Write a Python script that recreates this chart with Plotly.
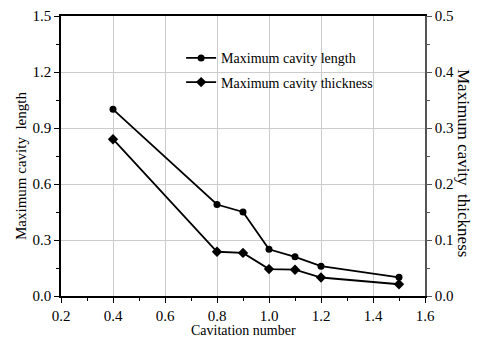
import plotly.graph_objects as go

cav_number = [0.4, 0.8, 0.9, 1.0, 1.1, 1.2, 1.5]
max_length = [1.0, 0.49, 0.45, 0.25, 0.21, 0.16, 0.10]
max_thickness = [0.28, 0.079, 0.077, 0.048, 0.047, 0.033, 0.021]

FONT = "Times New Roman, Liberation Serif, serif"

fig = go.Figure()
fig.add_trace(go.Scatter(
    x=cav_number, y=max_length, mode="lines+markers",
    name="Maximum cavity length", legendgroup="a",
    line=dict(color="black", width=1.8),
    marker=dict(symbol="circle", size=7, color="black"),
))
fig.add_trace(go.Scatter(
    x=cav_number, y=max_thickness, mode="lines+markers",
    name="Maximum cavity thickness", legendgroup="b", yaxis="y2",
    line=dict(color="black", width=1.8),
    marker=dict(symbol="diamond", size=8, color="black"),
))

tickfont = dict(family=FONT, size=15, color="black")

fig.update_layout(
    width=479, height=342,
    margin=dict(l=61, r=54, t=16, b=46),
    paper_bgcolor="white", plot_bgcolor="white",
    font=dict(family=FONT, color="black"),
    showlegend=True,
    legend=dict(x=0.33, y=0.906, xanchor="left", yanchor="top",
                bgcolor="rgba(0,0,0,0)", font=dict(family=FONT, size=14, color="black"),
                tracegroupgap=3, itemwidth=30),
    xaxis=dict(range=[0.2, 1.6], dtick=0.2, tickformat=".1f", automargin=False,
               showline=True, linecolor="black", linewidth=1.5, mirror=True,
               ticks="outside", ticklen=5, tickcolor="black", tickwidth=1,
               showgrid=True, gridcolor="#cccccc", gridwidth=1,
               minor=dict(dtick=0.1, ticks="outside", ticklen=3, tickcolor="black", showgrid=False),
               tickfont=tickfont, zeroline=False),
    yaxis=dict(range=[0, 1.5], dtick=0.3, tickformat=".1f", automargin=False,
               showline=True, linecolor="black", linewidth=1.5,
               ticks="outside", ticklen=5, tickcolor="black",
               showgrid=True, gridcolor="#cccccc", gridwidth=1,
               minor=dict(dtick=0.15, ticks="outside", ticklen=3, tickcolor="black", showgrid=False),
               tickfont=tickfont, zeroline=False),
    yaxis2=dict(range=[0, 0.5], dtick=0.1, tickformat=".1f", overlaying="y", side="right",
                automargin=False,
                showline=True, linecolor="#555555", linewidth=1.5,
                ticks="outside", ticklen=5, tickcolor="#555555",
                showgrid=False, zeroline=False,
                minor=dict(dtick=0.05, ticks="outside", ticklen=3, tickcolor="#555555", showgrid=False),
                tickfont=tickfont),
    annotations=[
        dict(text="Maximum cavity  thickness", textangle=90,
             xref="paper", yref="paper", x=1.0, y=0.5, xanchor="center", yanchor="middle",
             xshift=39, yshift=-7, showarrow=False,
             font=dict(family=FONT, size=17, color="black")),
        dict(text="Maximum cavity  length", textangle=-90,
             xref="paper", yref="paper", x=0.0, y=0.5, xanchor="center", yanchor="middle",
             xshift=-40, yshift=-10, showarrow=False,
             font=dict(family=FONT, size=15, color="black")),
        dict(text="Cavitation number",
             xref="paper", yref="paper", x=0.5, y=0.0, xanchor="center", yanchor="middle",
             yshift=-34, showarrow=False,
             font=dict(family=FONT, size=14, color="black")),
    ],
)

fig.write_html("out.html")
